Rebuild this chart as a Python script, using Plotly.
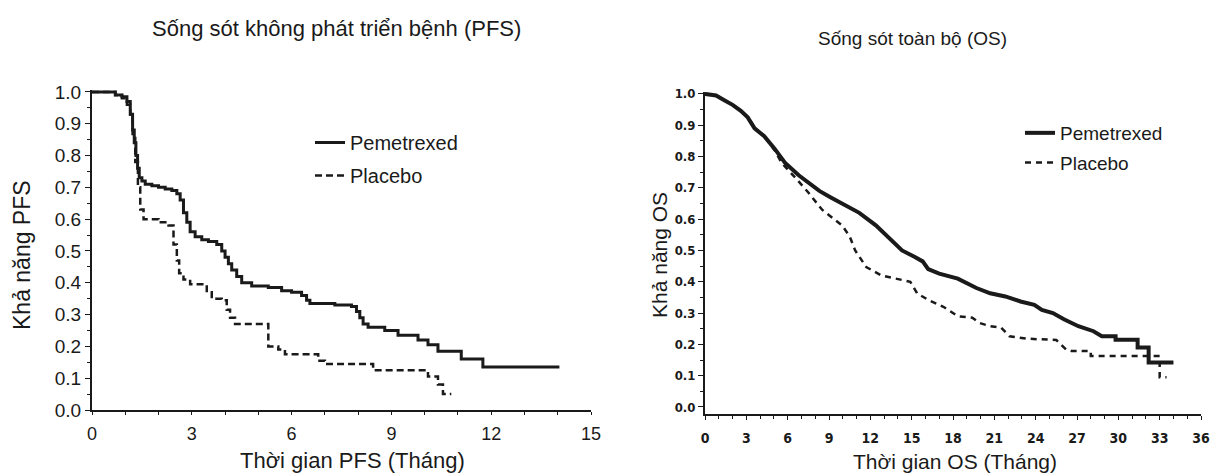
import plotly.graph_objects as go

# ---------------- data ----------------
pfs_pem_t = [0, 0.7, 0.9, 1.05, 1.15, 1.22, 1.27, 1.32, 1.37, 1.42, 1.5, 1.6, 1.8, 2.0, 2.2, 2.4, 2.55, 2.65,
             2.75, 2.85, 2.95, 3.1, 3.3, 3.5, 3.75, 3.9, 4.0, 4.1, 4.2, 4.35, 4.5, 4.8, 5.3, 5.7, 6.0, 6.3,
             6.45, 6.55, 7.3, 7.8, 7.95, 8.05, 8.15, 8.3, 8.8, 9.2, 9.8, 10.1, 10.4, 11.1, 11.75, 14.05]
pfs_pem_s = [1.0, 0.99, 0.985, 0.97, 0.93, 0.88, 0.84, 0.80, 0.76, 0.73, 0.72, 0.71, 0.705, 0.70, 0.695, 0.69,
             0.68, 0.66, 0.62, 0.59, 0.56, 0.545, 0.535, 0.53, 0.52, 0.50, 0.48, 0.46, 0.44, 0.42, 0.40, 0.39,
             0.385, 0.375, 0.37, 0.36, 0.345, 0.335, 0.33, 0.325, 0.31, 0.29, 0.27, 0.26, 0.25, 0.235, 0.22,
             0.205, 0.185, 0.16, 0.135, 0.135]

pfs_pla_t = [0, 0.7, 0.9, 1.05, 1.15, 1.22, 1.3, 1.38, 1.45, 1.55, 2.0, 2.3, 2.45, 2.55, 2.62, 2.75, 2.95,
             3.45, 3.6, 3.9, 4.05, 4.15, 4.3, 5.3, 5.6, 5.8, 6.8, 7.0, 8.45, 10.1, 10.4, 10.55, 10.8]
pfs_pla_s = [1.0, 0.99, 0.98, 0.96, 0.92, 0.86, 0.78, 0.70, 0.63, 0.60, 0.59, 0.58, 0.52, 0.47, 0.43, 0.41,
             0.395, 0.37, 0.35, 0.345, 0.315, 0.29, 0.27, 0.20, 0.19, 0.175, 0.155, 0.145, 0.125, 0.105,
             0.08, 0.05, 0.05]

# OS curves: dense early part, explicit steps (repeated times) in the tail
os_pem_t = [0, 0.8, 1.4, 2.0, 2.6, 3.1, 3.6, 4.3, 5.05, 5.8, 6.8, 7.5, 8.3, 9.1, 9.95, 11.2, 12.4, 13.0, 13.6,
            14.3, 15.2, 15.8, 16.2, 16.8, 17.0, 18.35, 19.7, 20.7, 21.8, 22.9, 23.9, 24.45, 25.25, 26.05,
            27.1, 28.2, 28.8, 29.8, 29.8, 31.4, 31.4, 32.2, 32.2, 34.0]
os_pem_s = [1.0, 0.995, 0.98, 0.965, 0.946, 0.925, 0.89, 0.865, 0.825, 0.78, 0.74, 0.715, 0.69, 0.67, 0.65,
            0.62, 0.58, 0.555, 0.53, 0.50, 0.48, 0.465, 0.44, 0.43, 0.426, 0.41, 0.38, 0.363, 0.353, 0.337,
            0.326, 0.31, 0.30, 0.28, 0.258, 0.242, 0.226, 0.226, 0.215, 0.215, 0.19, 0.19, 0.142, 0.142]

os_pla_t = [0, 0.8, 1.4, 2.0, 2.6, 3.1, 3.6, 4.3, 5.05, 5.55, 6.5, 7.5, 8.5, 9.95, 10.5, 10.9, 11.7, 12.8,
            13.85, 14.9, 15.4, 16.2, 17.3, 18.35, 19.4, 19.95, 20.7, 21.5, 22.1, 23.4, 25.5, 26.2, 26.6,
            28.0, 28.0, 33.0, 33.0, 33.5]
os_pla_s = [1.0, 0.995, 0.98, 0.965, 0.946, 0.925, 0.89, 0.865, 0.82, 0.78, 0.735, 0.685, 0.63, 0.58, 0.545,
            0.50, 0.447, 0.42, 0.41, 0.40, 0.363, 0.342, 0.32, 0.29, 0.285, 0.268, 0.258, 0.253, 0.226,
            0.218, 0.214, 0.184, 0.179, 0.179, 0.163, 0.163, 0.095, 0.095]

series_names = ["Pemetrexed", "Placebo"]
pfs_ticks = [0, 3, 6, 9, 12, 15]
os_ticks = [0, 3, 6, 9, 12, 15, 18, 21, 24, 27, 30, 33, 36]
y_ticks = [0.0, 0.1, 0.2, 0.3, 0.4, 0.5, 0.6, 0.7, 0.8, 0.9, 1.0]

title_pfs = "Sống sót không phát triển bệnh (PFS)"
title_os = "Sống sót toàn bộ (OS)"
xtitle_pfs = "Thời gian PFS (Tháng)"
xtitle_os = "Thời gian OS (Tháng)"
ytitle_pfs = "Khả năng PFS"
ytitle_os = "Khả năng OS"

# ---------------- figure ----------------
W, H = 1212, 475
INK = "#1a1a1a"
FONT = "Liberation Sans, Arial, sans-serif"
NARROW = "DejaVu Sans Condensed, Liberation Sans Narrow, Arial Narrow, Liberation Sans, sans-serif"

fig = go.Figure()

fig.add_trace(go.Scatter(x=pfs_pem_t, y=pfs_pem_s, mode="lines", line_shape="hv", name=series_names[0],
                         line=dict(color=INK, width=3), xaxis="x", yaxis="y", legend="legend",
                         legendgroup="a", hoverinfo="skip"))
fig.add_trace(go.Scatter(x=pfs_pla_t, y=pfs_pla_s, mode="lines", line_shape="hv", name=series_names[1],
                         line=dict(color=INK, width=2.5, dash="7px,4px"), xaxis="x", yaxis="y",
                         legend="legend", legendgroup="b", hoverinfo="skip"))
fig.add_trace(go.Scatter(x=os_pem_t, y=os_pem_s, mode="lines", line_shape="linear", name=series_names[0],
                         line=dict(color=INK, width=4), xaxis="x2", yaxis="y2", legend="legend2",
                         legendgroup="c", hoverinfo="skip"))
fig.add_trace(go.Scatter(x=os_pla_t, y=os_pla_s, mode="lines", line_shape="linear", name=series_names[1],
                         line=dict(color=INK, width=2.5, dash="6px,5px"), xaxis="x2", yaxis="y2",
                         legend="legend2", legendgroup="d", hoverinfo="skip"))


def px_x(p):
    return p / W


def px_y(p):
    return 1 - p / H


common_axis = dict(showgrid=False, zeroline=False, showline=True, linecolor=INK, linewidth=2,
                   tickcolor=INK, ticks="outside", ticklabeloverflow="allow")

fig.update_layout(
    width=W, height=H, margin=dict(l=0, r=0, t=0, b=0, autoexpand=False),
    paper_bgcolor="white", plot_bgcolor="white",
    font=dict(family=FONT, color=INK),
    xaxis=dict(**common_axis, domain=[px_x(92), px_x(591)], range=[0, 15], tickvals=pfs_ticks,
               ticklen=3, tickfont=dict(size=18, family=FONT), ticklabelstandoff=3,
               minor=dict(dtick=1, tick0=0, ticks="outside", ticklen=3, tickcolor=INK),
               anchor="y"),
    yaxis=dict(**common_axis, domain=[px_y(410), px_y(90)], range=[0, 1.006], tickvals=y_ticks,
               tickformat=".1f", ticklen=5, tickfont=dict(size=19, family=FONT),
               minor=dict(dtick=0.05, tick0=0, ticks="outside", ticklen=3, tickcolor=INK),
               anchor="x"),
    xaxis2=dict(**common_axis, domain=[px_x(705), px_x(1201)], range=[0, 36], tickvals=os_ticks,
                ticklen=4, tickfont=dict(size=14, family=NARROW, weight="bold"), ticklabelstandoff=6,
                minor=dict(dtick=1, tick0=0, ticks="outside", ticklen=3, tickcolor=INK),
                anchor="y2"),
    yaxis2=dict(**common_axis, domain=[px_y(414), px_y(92)], range=[-0.0224, 1.006], tickvals=y_ticks,
                tickformat=".1f", ticklen=5, tickfont=dict(size=13, family=NARROW, weight="bold"),
                minor=dict(dtick=0.05, tick0=0, ticks="outside", ticklen=3, tickcolor=INK),
                anchor="x2"),
    legend=dict(x=px_x(310), y=px_y(123), xanchor="left", yanchor="top", bgcolor="rgba(0,0,0,0)",
                font=dict(size=20, family=FONT), traceorder="grouped", tracegroupgap=4),
    legend2=dict(x=px_x(1020), y=px_y(114), xanchor="left", yanchor="top", bgcolor="rgba(0,0,0,0)",
                 font=dict(size=19, family=FONT), traceorder="grouped", tracegroupgap=2),
    showlegend=True,
)

ann = [
    dict(text=title_pfs, x=px_x(336), y=px_y(29), size=22, angle=0),
    dict(text=title_os, x=px_x(912), y=px_y(39), size=19, angle=0),
    dict(text=xtitle_pfs, x=px_x(352), y=px_y(460), size=22, angle=0),
    dict(text=xtitle_os, x=px_x(955), y=px_y(461), size=21, angle=0),
    dict(text=ytitle_pfs, x=px_x(22), y=px_y(255), size=23, angle=-90),
    dict(text=ytitle_os, x=px_x(659), y=px_y(255), size=21, angle=-90),
]
for a in ann:
    fig.add_annotation(text=a["text"], x=a["x"], y=a["y"], xref="paper", yref="paper",
                       xanchor="center", yanchor="middle", showarrow=False, textangle=a["angle"],
                       font=dict(size=a["size"], family=FONT, color=INK))

# remove the default page margin so the figure sits at the window's top-left corner
fig.write_html("out.html", config={"displayModeBar": False},
               post_script="document.body.style.margin='0';")
